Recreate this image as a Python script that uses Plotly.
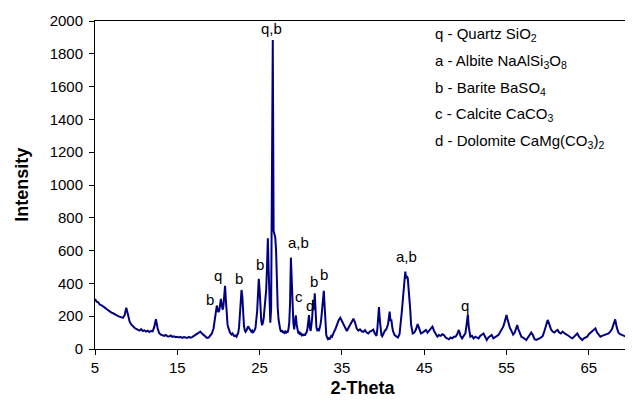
import plotly.graph_objects as go

# ---- XRD pattern, by segment ----
theta_a = [5.0,5.2,5.4,5.6,5.8,6.0,6.2,6.4,6.6,6.8,7.0,7.2,7.4,7.6,7.8,8.0,8.2,8.4,8.6,8.8,9.0,9.2,9.4,9.6,9.8,10.0]
int_a = [305,288,284,270,266,256,252,244,236,230,222,218,210,207,200,196,192,190,206,252,212,168,150,138,130,122]

theta_b = [10.2,10.4,10.6,10.8,11.0,11.2,11.4,11.6,11.8,12.0,
           12.2,12.4,12.6,12.8,13.0,13.2,13.4,13.6,13.8,14.0,
           14.2,14.4,14.6,14.8,15.0,15.2,15.4,15.6,15.8,16.0,
           16.2,16.4,16.6,16.8,17.0,17.2,17.4,17.6,17.8,18.0,
           18.2,18.4,18.6,18.8,19.0]
int_b = [118,112,121,110,114,106,112,104,110,108,
         135,182,128,96,88,84,80,86,78,76,
         82,74,77,72,75,70,74,68,73,70,
         67,74,69,72,78,84,92,99,106,94,
         84,76,68,70,80]

theta_c = [19.1,19.2,19.3,19.4,19.5,19.6,19.7,19.8,19.9,20.0,
           20.1,20.2,20.3,20.4,20.5,20.6,20.7,20.8,20.9,21.0,
           21.1,21.2,21.3,21.4,21.5,21.6,21.7,21.8,21.9,22.0,
           22.1,22.2,22.3,22.4,22.5,22.6,22.7,22.8,22.9,23.0,
           23.1,23.2,23.3,23.4,23.5,23.6,23.7,23.8,23.9,24.0,
           24.1,24.2,24.3,24.4,24.5,24.6,24.7,24.8,24.9,25.0,
           25.1,25.2,25.3,25.4,25.5,25.6,25.7,25.8,25.9,26.0,
           26.1,26.2,26.3,26.4,26.5,26.6,26.7,26.8,26.9,27.0,
           27.1,27.2,27.3,27.4,27.5,27.6,27.7,27.8,27.9,28.0]
int_c = [85,95,110,125,160,210,250,265,240,225,
         235,270,305,270,240,260,330,385,300,200,
         150,130,110,100,92,88,95,85,80,78,
         82,76,85,100,130,200,300,360,320,210,
         140,115,105,112,125,138,130,118,110,105,
         112,102,108,115,130,165,230,330,428,360,
         240,170,145,160,190,250,310,360,500,675,
         480,220,160,250,860,1884,720,690,680,600,
         380,250,180,140,120,105,115,100,108,98]

theta_d = [28.1,28.2,28.3,28.4,28.5,28.6,28.7,28.8,28.9,29.0,
           29.1,29.2,29.3,29.4,29.5,29.6,29.7,29.8,29.9,30.0,
           30.1,30.2,30.3,30.4,30.5,30.6,30.7,30.8,30.9,31.0,
           31.1,31.2,31.3,31.4,31.5,31.6,31.7,31.8,31.9,32.0,
           32.1,32.2,32.3,32.4,32.5,32.6,32.7,32.8,32.9,33.0,
           33.1,33.2,33.3,33.4,33.5,33.6,33.7,33.8,33.9,34.0,
           34.2,34.4,34.6,34.8,35.0,35.2,35.4,35.6,35.8,36.0,
           36.2,36.4,36.6,36.8,37.0]
int_d = [105,95,110,100,120,160,280,557,380,270,
         160,120,150,205,150,110,95,100,88,95,
         85,92,80,90,82,95,100,120,160,207,
         130,110,150,200,300,240,340,200,130,115,
         120,110,125,150,190,240,300,355,260,140,
         85,70,60,65,58,70,80,75,90,100,
         120,150,175,190,170,140,120,110,130,150,
         160,185,160,125,112]

theta_e = [37.2,37.4,37.6,37.8,38.0,38.2,38.4,38.6,38.8,39.0,
           39.2,39.3,39.4,39.5,39.6,39.7,39.8,39.9,40.0,40.2,
           40.4,40.6,40.7,40.8,40.9,41.0,41.1,41.2,41.4,41.6,
           41.8,42.0,42.1,42.2,42.3,42.4,42.5,42.6,42.7,42.8,
           42.9,43.0,43.1,43.2,43.3,43.4,43.5,43.6,43.8,44.0,
           44.2,44.4,44.6,44.8,45.0,45.2,45.4,45.6,45.8,46.0,
           46.2,46.4,46.6,46.8,47.0,47.2,47.4,47.6,47.8,48.0,
           48.2,48.4,48.6,48.8]
int_e = [120,108,104,115,100,94,106,110,118,95,
         80,120,190,255,180,110,85,78,90,110,
         120,150,190,228,170,180,140,110,85,78,
         70,90,130,190,240,300,380,440,472,430,
         445,431,380,290,240,150,110,95,100,120,
         152,115,95,100,110,116,100,110,125,136,
         110,90,75,85,80,90,85,70,65,59,
         70,65,75,75]

theta_f = [49.0,49.1,49.2,49.3,49.4,49.6,49.8,50.0,50.1,50.2,
           50.3,50.4,50.5,50.6,50.8,51.0,51.2,51.4,51.6,51.8,
           52.0,52.2,52.4,52.6,52.8,53.0,53.2,53.4,53.6,53.8,
           54.0,54.2,54.4,54.6,54.8,54.9,55.0,55.1,55.2,55.4,
           55.6,55.8,56.0,56.2,56.3,56.4,56.6,56.8,57.0,57.2,
           57.4,57.6,57.8,58.0,58.2,58.4,58.6,58.8,59.0,59.2,
           59.4,59.6,59.8,60.0,60.2,60.4,60.6,60.8,61.0,61.2,
           61.4,61.6,61.8,62.0,62.2,62.4,62.6,62.8,63.0,63.2,
           63.4,63.6,63.8,64.0,64.2,64.4,64.6,64.8,65.0,65.2,
           65.4,65.6,65.8,66.0,66.2,66.4,66.6,66.8,67.0,67.2,
           67.4,67.6,67.8,68.0,68.2,68.4,68.6,68.8,69.0,69.2,
           69.4,69.6,69.8,70.0]
int_f = [90,105,116,100,80,65,80,95,130,180,
         211,140,90,75,80,65,75,70,65,80,
         85,95,75,55,70,80,85,65,70,80,
         85,100,120,136,170,195,207,185,160,130,
         110,88,100,135,146,125,95,75,70,60,
         55,70,85,100,85,60,55,62,65,70,
         80,110,150,177,150,120,106,100,110,116,
         100,95,106,95,90,85,75,70,65,75,
         85,95,75,65,55,65,70,75,90,100,
         110,120,126,100,85,75,80,85,85,90,
         95,106,120,150,181,130,100,90,85,80,
         75,70,68,65]

two_theta = theta_a + theta_b + theta_c + theta_d + theta_e + theta_f
intensity = int_a + int_b + int_c + int_d + int_e + int_f
assert len(two_theta) == len(intensity)

# peak labels
peak_text = ["q,b", "b", "q", "b", "b", "a,b", "c", "d", "b", "b", "a,b", "q"]
peak_x = [26.5, 19.0, 20.0, 22.5, 25.07, 29.73, 29.73, 31.07, 31.56, 32.86, 42.83, 50.0]
peak_y = [1957, 303, 451, 431, 518, 648, 323, 268, 410, 457, 563, 268]

# phase key
phase_lines = ["q - Quartz SiO<sub>2</sub>",
               "a - Albite NaAlSi<sub>3</sub>O<sub>8</sub>",
               "b - Barite BaSO<sub>4</sub>",
               "c - Calcite CaCO<sub>3</sub>",
               "d - Dolomite CaMg(CO<sub>3</sub>)<sub>2</sub>"]
phase_y = [1915, 1755, 1590, 1432, 1268]

x_ticks = [5, 15, 25, 35, 45, 55, 65]
y_ticks = [0, 200, 400, 600, 800, 1000, 1200, 1400, 1600, 1800, 2000]

FONT = "Liberation Sans, Arial, Helvetica, sans-serif"

fig = go.Figure()
fig.add_trace(go.Scatter(x=two_theta, y=intensity, mode="lines",
                         line=dict(color="#000080", width=2), showlegend=False))

for t, x, y in zip(peak_text, peak_x, peak_y):
    fig.add_annotation(x=x, y=y, text=t, showarrow=False, xref="x", yref="y",
                       font=dict(family=FONT, size=15, color="black"))
for t, y in zip(phase_lines, phase_y):
    fig.add_annotation(x=46.1, y=y, text=t, showarrow=False, xref="x", yref="y",
                       xanchor="left", font=dict(family=FONT, size=15, color="black"))

# y-axis title placed as a rotated annotation, further left than axis standoff allows
fig.add_annotation(x=-0.137, y=0.5, xref="paper", yref="paper", text="<b>Intensity</b>",
                   textangle=-90, showarrow=False, xanchor="center", yanchor="middle",
                   font=dict(family=FONT, size=18, color="black"))

# the page body keeps its default 8px margin, so the figure is sized to fit
fig.update_layout(
    width=625, height=397,
    margin=dict(l=87, r=3, t=13, b=56, autoexpand=False),
    paper_bgcolor="white", plot_bgcolor="white",
    font=dict(family=FONT, size=15, color="black"),
)
fig.update_xaxes(range=[5, 70], tickvals=x_ticks, ticks="outside", ticklen=5,
                 tickcolor="black", showline=True, linecolor="black", linewidth=1,
                 mirror=True, showgrid=False, zeroline=False, automargin=False,
                 tickfont=dict(family=FONT, size=15),
                 title=dict(text="<b>2-Theta</b>", font=dict(family=FONT, size=18), standoff=6))
fig.update_yaxes(range=[0, 2000], tickvals=y_ticks, ticks="outside", ticklen=5,
                 tickcolor="black", showline=True, linecolor="black", linewidth=1,
                 mirror=True, showgrid=False, zeroline=False, automargin=False,
                 ticklabelstandoff=3,
                 tickfont=dict(family=FONT, size=15))

fig.write_html("out.html")
